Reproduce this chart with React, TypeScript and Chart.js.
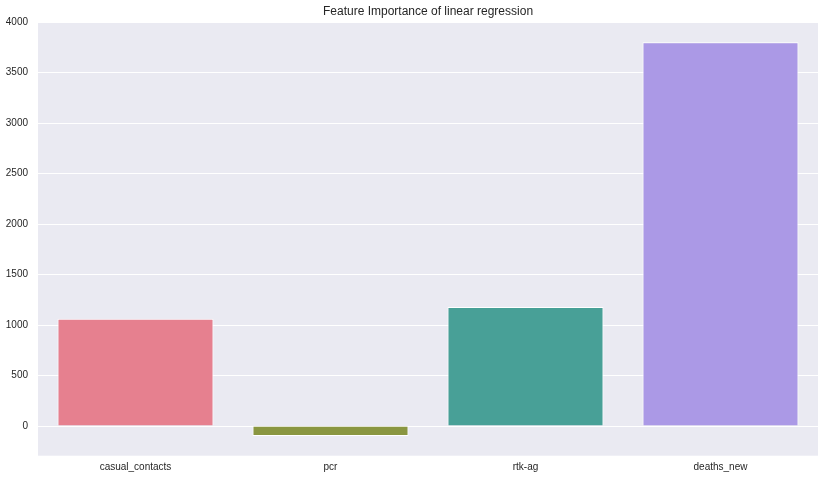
import React, { useEffect, useRef } from "react";
import { Chart, registerables } from "chart.js";

Chart.register(...registerables);

const categories = ["casual_contacts", "pcr", "rtk-ag", "deaths_new"];
const importance = [1062, -97, 1180, 3800];
const barColors = ["#E6808F", "#8A9641", "#48A097", "#AB99E6"];
const yTicks = [0, 500, 1000, 1500, 2000, 2500, 3000, 3500, 4000];
const titleText = "Feature Importance of linear regression";

const FONT = "'Liberation Sans', Arial, sans-serif";

const bgPlugin = {
  id: "plotBg",
  beforeDraw(chart: any) {
    const { ctx, chartArea } = chart;
    ctx.save();
    ctx.fillStyle = "#EAEAF2";
    ctx.fillRect(chartArea.left, chartArea.top, chartArea.right - chartArea.left, chartArea.bottom - chartArea.top);
    ctx.restore();
  },
  afterDraw(chart: any) {
    const { ctx, chartArea } = chart;
    ctx.save();
    ctx.fillStyle = "#262626";
    ctx.font = `12px ${FONT}`;
    ctx.textAlign = "center";
    ctx.textBaseline = "middle";
    ctx.fillText(titleText, (chartArea.left + chartArea.right) / 2, 11.5);
    ctx.restore();
  },
};

export default function App() {
  const ref = useRef<HTMLCanvasElement>(null);
  useEffect(() => {
    document.body.style.margin = "0";
    const chart = new Chart(ref.current!, {
      type: "bar",
      data: {
        labels: categories,
        datasets: [
          {
            data: importance,
            backgroundColor: barColors,
            borderColor: "#FFFFFF",
            borderWidth: 1,
            categoryPercentage: 0.8,
            barPercentage: 1,
          },
        ],
      },
      options: {
        animation: false,
        responsive: false,
        maintainAspectRatio: false,
        layout: { padding: { left: 0, right: 7, top: 22, bottom: 0 } },
        plugins: {
          legend: { display: false },
          tooltip: { enabled: false },
          title: { display: false },
        },
        scales: {
          x: {
            grid: { display: false, drawTicks: false },
            border: { display: false },
            ticks: {
              color: "#262626",
              padding: 6,
              font: { family: FONT, size: 10 },
            },
            afterFit(scale: any) {
              scale.height = 23.3;
            },
          },
          y: {
            min: -293,
            max: 4000,
            grid: { color: "#FFFFFF", lineWidth: 1, drawTicks: false },
            border: { display: false },
            ticks: {
              color: "#262626",
              padding: 10,
              font: { family: FONT, size: 10 },
              callback: (v: any) => String(v),
            },
            afterBuildTicks(scale: any) {
              scale.ticks = yTicks.map((v) => ({ value: v }));
            },
            afterFit(scale: any) {
              scale.width = 38;
            },
          },
        },
      },
      plugins: [bgPlugin],
    } as any);
    return () => chart.destroy();
  }, []);
  return (
    <div style={{ width: 825, height: 479, position: "relative", background: "#FFFFFF" }}>
      <canvas ref={ref} width={825} height={479} style={{ display: "block" }} />
    </div>
  );
}
